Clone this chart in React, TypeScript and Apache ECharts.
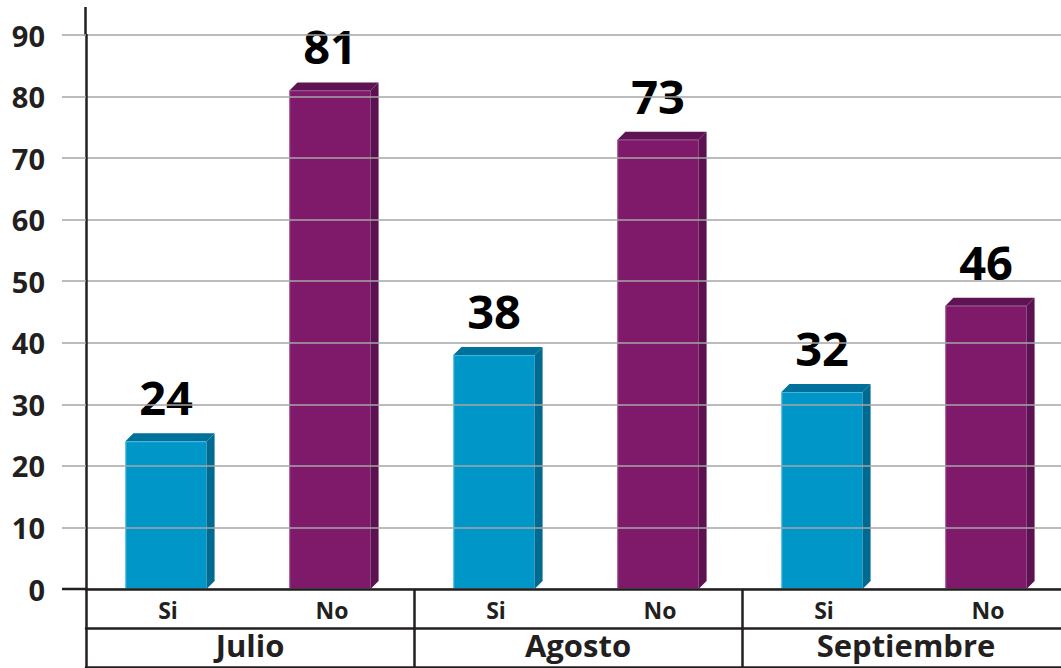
import React, { useEffect, useRef } from "react";
import * as echarts from "echarts";

const subCategories = ["Si", "No", "Si", "No", "Si", "No"];
const months = ["Julio", "Agosto", "Septiembre"];
const siValues = [24, 38, 32];
const noValues = [81, 73, 46];
const yMin = 0;
const yMax = 90;
const yInterval = 10;

const FONT = "'Open Sans', 'Noto Sans', sans-serif";
const DARK = "#231f20";
const GRID = "#a6a6a6";

const palette = {
  si: { front: "#0096c8", top: "#00719a", side: "#006a90", edge: "#5cc3e6" },
  no: { front: "#7f1a6b", top: "#5e1352", side: "#5c1250", edge: "#a4569a" },
};

function makeRenderItem(colors: { front: string; top: string; side: string; edge: string }) {
  return (params: any, api: any) => {
    const idx = api.value(0);
    const val = api.value(1);
    const top = api.coord([idx, val]);
    const base = api.coord([idx, 0]);
    const cw = api.size([1, 0])[0];
    const w = cw * 0.495;
    const d = 8;
    const x0 = top[0] - w / 2 - 2;
    const x1 = x0 + w;
    const yT = top[1];
    const yB = base[1];
    return {
      type: "group",
      children: [
        { type: "rect", shape: { x: x0, y: yT, width: w, height: yB - yT }, style: { fill: colors.front } },
        {
          type: "polygon",
          shape: { points: [[x0, yT], [x0 + d, yT - d], [x1 + d, yT - d], [x1, yT]] },
          style: { fill: colors.top },
        },
        {
          type: "polygon",
          shape: { points: [[x1, yT], [x1 + d, yT - d], [x1 + d, yB - d], [x1, yB]] },
          style: { fill: colors.side },
        },
        {
          type: "polyline",
          shape: { points: [[x0 + 0.5, yB], [x0 + 0.5, yT + 0.5], [x1, yT + 0.5]] },
          style: { stroke: colors.edge, lineWidth: 1, fill: "none", opacity: 0.7 },
        },
        {
          type: "text",
          x: (x0 + x1) / 2,
          y: yT - 44,
          style: {
            text: String(val),
            fill: "#000",
            font: `bold 47px ${FONT}`,
            textAlign: "center",
            textVerticalAlign: "middle",
          },
        },
      ],
    };
  };
}

export default function App() {
  const ref = useRef<HTMLDivElement>(null);
  useEffect(() => {
    if (!ref.current) return;
    const chart = echarts.init(ref.current, undefined, { renderer: "svg" });
    const option: any = {
      animation: false,
      backgroundColor: "#fff",
      grid: { left: 86, top: 35, right: 0, height: 554 },
      xAxis: [
        {
          type: "category",
          data: subCategories,
          position: "bottom",
          axisLine: { show: true, lineStyle: { color: DARK, width: 2.5 } },
          axisTick: {
            show: true,
            interval: (index: number) => index % 2 === 0,
            length: 39,
            lineStyle: { color: DARK, width: 2.5 },
          },
          axisLabel: { fontSize: 23, fontWeight: "bold", color: DARK, margin: 9, fontFamily: FONT, interval: 0 },
          z: 5,
        },
        {
          type: "category",
          data: months,
          position: "bottom",
          offset: 39,
          axisLine: { show: true, lineStyle: { color: DARK, width: 2.5 } },
          axisTick: { show: true, interval: 0, length: 40, lineStyle: { color: DARK, width: 2.5 } },
          axisLabel: { fontSize: 31, fontWeight: "bold", color: DARK, margin: 1, fontFamily: FONT, interval: 0 },
        },
        {
          type: "category",
          data: months,
          position: "bottom",
          offset: 78,
          axisLine: { show: true, lineStyle: { color: DARK, width: 2.5 } },
          axisTick: { show: false },
          axisLabel: { show: false },
        },
      ],
      yAxis: {
        type: "value",
        min: yMin,
        max: yMax,
        interval: yInterval,
        axisLine: { show: true, lineStyle: { color: DARK, width: 2.5 } },
        axisTick: { show: true, length: 24, lineStyle: { color: GRID, width: 1.5 } },
        splitLine: { show: true, lineStyle: { color: GRID, width: 1.5 } },
        axisLabel: { fontSize: 29, fontWeight: "bold", color: DARK, margin: 41, fontFamily: FONT },
        z: 4,
      },
      graphic: [
        { type: "line", shape: { x1: 85.5, y1: 7, x2: 85.5, y2: 36 }, style: { stroke: DARK, lineWidth: 2.5 } },
        { type: "line", shape: { x1: 62, y1: 589, x2: 86, y2: 589 }, style: { stroke: DARK, lineWidth: 2.5 }, z: 10 },
      ],
      series: [
        {
          type: "custom",
          name: "Si",
          xAxisIndex: 0,
          renderItem: makeRenderItem(palette.si),
          data: siValues.map((v, i) => [2 * i, v]),
          z: 3,
        },
        {
          type: "custom",
          name: "No",
          xAxisIndex: 0,
          renderItem: makeRenderItem(palette.no),
          data: noValues.map((v, i) => [2 * i + 1, v]),
          z: 3,
        },
      ],
    };
    chart.setOption(option);
    return () => chart.dispose();
  }, []);
  return (
    <div
      ref={ref}
      style={{ position: "fixed", left: 0, top: 0, width: 1070, height: 668, background: "#fff" }}
    />
  );
}
